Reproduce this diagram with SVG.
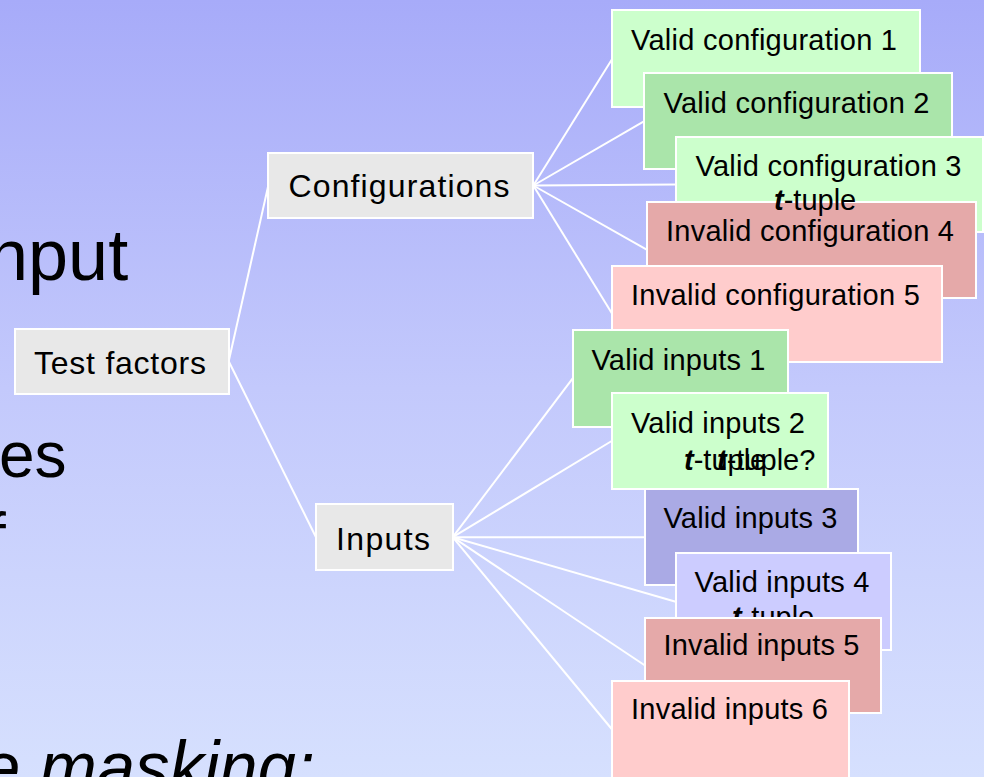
<svg xmlns="http://www.w3.org/2000/svg" width="984" height="777" viewBox="0 0 984 777">
<defs>
<linearGradient id="bg" x1="0" y1="0" x2="0" y2="1">
<stop offset="0" stop-color="#a7abf9"/>
<stop offset="0.5" stop-color="#c3c9fc"/>
<stop offset="1" stop-color="#d6e0fe"/>
</linearGradient>
<style>
.box{stroke:#fff;stroke-width:2}
.gray{fill:#e8e8e8}
.g1{fill:#ccffcc}
.g2{fill:#aae5aa}
.r1{fill:#e5a9a9}
.r2{fill:#ffcccc}
.b1{fill:#aaaae5}
.b2{fill:#ccccff}
text{font-family:"Liberation Sans",Arial,sans-serif;fill:#000}
.pl{font-size:32px}
.ll{font-size:29px}
.tt{font-weight:bold;font-style:italic}
#connectors line{stroke:#fff;stroke-width:2}
</style>
</defs>
<rect x="0" y="0" width="984" height="777" fill="url(#bg)"/>
<g id="slide-text">
<text x="-12" y="280" font-size="72">nput</text>
<text x="-1" y="477" font-size="64">es</text>
<text x="-12" y="558" font-size="64">f</text>
<text x="-18" y="792" font-size="72" font-style="italic" textLength="333" lengthAdjust="spacingAndGlyphs">e masking:</text>
</g>
<g id="connectors">
<line x1="228.7" y1="361.3" x2="268.3" y2="185.5"/>
<line x1="228.7" y1="361.3" x2="316" y2="537.2"/>
<line x1="533.3" y1="185.5" x2="612.3" y2="58.7"/>
<line x1="533.3" y1="185.5" x2="644.3" y2="121.2"/>
<line x1="533.3" y1="185.5" x2="676" y2="184.5"/>
<line x1="533.3" y1="185.5" x2="646.7" y2="249.7"/>
<line x1="533.3" y1="185.5" x2="612.3" y2="314"/>
<line x1="452.7" y1="537.2" x2="572.7" y2="378.3"/>
<line x1="452.7" y1="537.2" x2="611.7" y2="441"/>
<line x1="452.7" y1="537.2" x2="645" y2="537.2"/>
<line x1="452.7" y1="537.2" x2="675.7" y2="601.7"/>
<line x1="452.7" y1="537.2" x2="645" y2="665.5"/>
<line x1="452.7" y1="537.2" x2="611.7" y2="729"/>
</g>
<g id="node-test-factors">
<rect class="box gray" x="15" y="329" width="214" height="65"/>
<text class="pl" x="34" y="374" textLength="172">Test factors</text>
</g>
<g id="node-configurations">
<rect class="box gray" x="268" y="153" width="265" height="65"/>
<text class="pl" x="288.5" y="197" textLength="221">Configurations</text>
</g>
<g id="node-inputs">
<rect class="box gray" x="316" y="504" width="137" height="66"/>
<text class="pl" x="336" y="550" textLength="94">Inputs</text>
</g>
<g id="node-valid-config-1">
<rect class="box g1" x="612" y="10" width="308" height="97"/>
<text class="ll" x="631" y="50" textLength="266">Valid configuration 1</text>
</g>
<g id="node-valid-config-2">
<rect class="box g2" x="644" y="73" width="308" height="96"/>
<text class="ll" x="663.5" y="112.5" textLength="266">Valid configuration 2</text>
</g>
<g id="node-valid-config-3">
<rect class="box g1" x="676" y="137" width="307" height="95"/>
<text class="ll" x="695.5" y="176" textLength="266">Valid configuration 3</text>
</g>
<g id="node-invalid-config-4">
<rect class="box r1" x="647" y="202" width="329" height="96"/>
<text class="ll" x="666" y="240.7" textLength="288">Invalid configuration 4</text>
</g>
<g id="node-valid-config-3-note">
<text class="ll" x="774" y="210"><tspan class="tt">t</tspan>-tuple</text>
</g>
<g id="node-invalid-config-5">
<rect class="box r2" x="612" y="266" width="330" height="96"/>
<text class="ll" x="631" y="305" textLength="289">Invalid configuration 5</text>
</g>
<g id="node-valid-inputs-1">
<rect class="box g2" x="573" y="330" width="215" height="97"/>
<text class="ll" x="591.5" y="370" textLength="174">Valid inputs 1</text>
</g>
<g id="node-valid-inputs-2">
<rect class="box g1" x="612" y="393" width="216" height="96"/>
<text class="ll" x="631" y="433.3" textLength="174">Valid inputs 2</text>
<text class="ll" x="684" y="470"><tspan class="tt">t</tspan>-tuple</text>
<text class="ll" x="717" y="470"><tspan class="tt">t</tspan>-tuple?</text>
</g>
<g id="node-valid-inputs-3">
<rect class="box b1" x="645" y="489" width="213" height="96"/>
<text class="ll" x="663.5" y="528.3" textLength="174">Valid inputs 3</text>
</g>
<g id="node-valid-inputs-4">
<rect class="box b2" x="676" y="553" width="215" height="97"/>
<text class="ll" x="694.5" y="591.7" textLength="175">Valid inputs 4</text>
<text class="ll" x="732" y="627"><tspan class="tt">t</tspan>-tuple</text>
</g>
<g id="node-invalid-inputs-5">
<rect class="box r1" x="645" y="618" width="236" height="95"/>
<text class="ll" x="663.5" y="655" textLength="196">Invalid inputs 5</text>
</g>
<g id="node-invalid-inputs-6">
<rect class="box r2" x="612" y="681" width="237" height="100"/>
<text class="ll" x="631" y="719.3" textLength="197">Invalid inputs 6</text>
</g>
</svg>
